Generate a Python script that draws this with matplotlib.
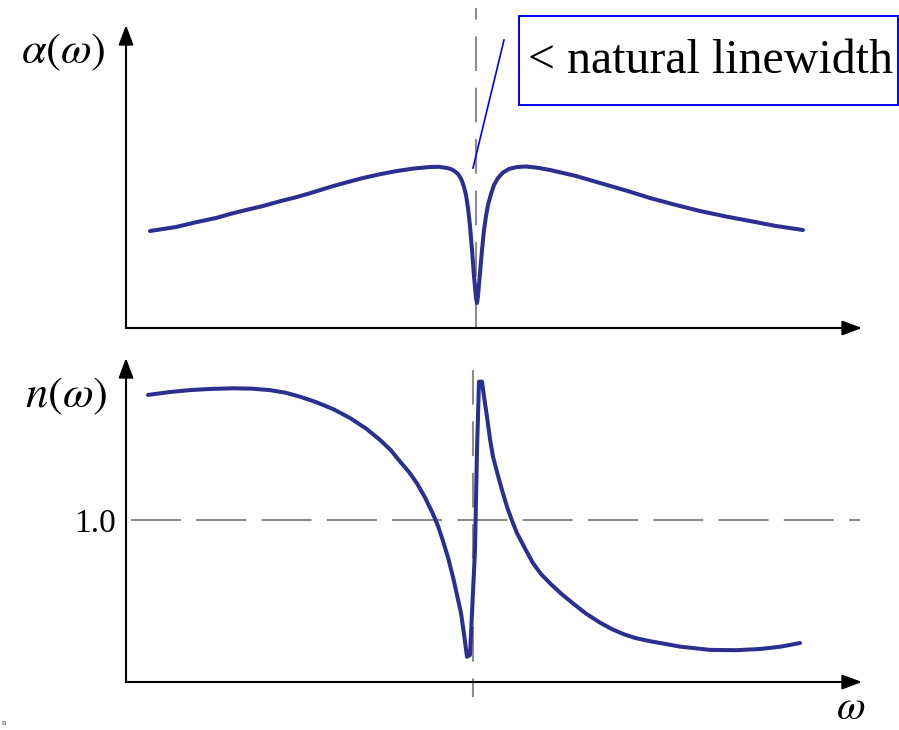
#!/usr/bin/env python3
''' Absorption alpha(w) and refractive index n(w) near a narrow dip (sketch) '''
import numpy as np
import matplotlib
matplotlib.use("Agg")
from matplotlib import pyplot as plt
from matplotlib.patches import Rectangle

plt.rcParams['font.family'] = ['Liberation Serif', 'DejaVu Serif']
plt.rcParams['mathtext.fontset'] = 'stix'
plt.rcParams['lines.scale_dashes'] = False

# absorption curve (omega in arbitrary units)
w_alpha = [0.24, 0.5, 0.71, 0.9, 1.04, 1.2, 1.37, 1.55, 1.71, 1.88, 2.04, 2.2, 2.37, 2.55,
           2.71, 2.88, 3.04, 3.13, 3.21, 3.26, 3.29, 3.32, 3.34, 3.36, 3.38, 3.40, 3.42,
           3.44, 3.46, 3.48, 3.50, 3.51, 3.52, 3.54, 3.56, 3.58, 3.60, 3.62, 3.65, 3.68,
           3.72, 3.77, 3.83, 3.91, 4.0, 4.1, 4.24, 4.5, 4.74, 5.0, 5.24, 5.5, 5.74, 6.0,
           6.24, 6.5, 6.77]
alpha = [0.97, 1.01, 1.06, 1.10, 1.14, 1.18, 1.22, 1.27, 1.31, 1.36, 1.41, 1.455, 1.50, 1.54,
         1.57, 1.595, 1.61, 1.612, 1.60, 1.585, 1.565, 1.54, 1.51, 1.47, 1.41, 1.33, 1.20,
         1.02, 0.78, 0.52, 0.30, 0.25, 0.32, 0.55, 0.78, 0.98, 1.12, 1.23, 1.34, 1.43,
         1.50, 1.555, 1.59, 1.61, 1.615, 1.605, 1.58, 1.52, 1.45, 1.375, 1.30, 1.23, 1.17, 1.115,
         1.07, 1.02, 0.98]

# refractive index curve
w_n = [0.22, 0.45, 0.64, 0.85, 1.07, 1.25, 1.44, 1.6, 1.74, 1.9, 2.07, 2.24, 2.4, 2.54,
       2.65, 2.74, 2.83, 2.91, 2.99, 3.07, 3.12, 3.17, 3.22, 3.27, 3.31, 3.35, 3.38, 3.41,
       3.44, 3.49, 3.51, 3.53, 3.56, 3.585, 3.61, 3.64, 3.67, 3.71, 3.76, 3.81, 3.86, 3.91,
       3.99, 4.07, 4.15, 4.24, 4.35, 4.47, 4.6, 4.74, 4.86, 4.98, 5.1, 5.24, 5.54, 5.84,
       6.1, 6.34, 6.55, 6.74]
n = [1.417, 1.427, 1.433, 1.437, 1.439, 1.438, 1.433, 1.424, 1.411, 1.393, 1.37, 1.34, 1.305,
     1.267, 1.232, 1.195, 1.16, 1.122, 1.075, 1.02, 0.98, 0.93, 0.875, 0.81, 0.75, 0.69,
     0.62, 0.544, 0.55, 0.90, 1.233, 1.461, 1.461, 1.40, 1.344, 1.27, 1.211, 1.16, 1.10,
     1.044, 0.998, 0.956, 0.905, 0.856, 0.82, 0.789, 0.755, 0.722, 0.688, 0.658, 0.636,
     0.619, 0.606, 0.596, 0.578, 0.567, 0.566, 0.57, 0.578, 0.59]

w0_top = 3.50
w0_bot = 3.47
n_ref = 1.0

W, H = 899, 730
curve_col = '#2b2f8f'
dash_col = '#8c8c8c'

fig = plt.figure(figsize=(W / 100, H / 100), dpi=100)


def box(l, t, r, b):
    return [l / W, 1 - b / H, (r - l) / W, (b - t) / H]


def arrows(ax):
    st = dict(arrowstyle='-|>,head_length=0.8,head_width=0.3', color='black',
              lw=1.5, shrinkA=0, shrinkB=0, mutation_scale=15)
    ax.annotate('', xy=(1, 0), xytext=(0, 0), xycoords='axes fraction', arrowprops=st)
    ax.annotate('', xy=(0, 1), xytext=(0, 0), xycoords='axes fraction', arrowprops=st)
    for s in ax.spines.values():
        s.set_visible(False)
    ax.set_xticks([])


ax1 = fig.add_axes(box(126, 25, 862, 328))
ax1.set_xlim(0, 7.36)
ax1.set_ylim(0, 3.03)
arrows(ax1)
ax1.set_yticks([])
ax1.plot([w0_top, w0_top], [0, 3.20], color=dash_col, lw=1.5,
         dashes=(25, 12), clip_on=False, zorder=1)
ax1.plot(w_alpha, alpha, color=curve_col, lw=2.9, solid_joinstyle='round',
         solid_capstyle='round', zorder=3)
ax1.plot([3.47, 3.78], [1.60, 2.88], color='blue', lw=1.2, clip_on=False)

ax2 = fig.add_axes(box(126, 358, 862, 682))
ax2.set_xlim(0, 7.36)
ax2.set_ylim(0.46, 1.54)
arrows(ax2)
ax2.set_yticks([n_ref])
ax2.set_yticklabels(['1.0'], fontsize=24)
ax2.tick_params(axis='y', length=0, pad=7)
ax2.plot([0.05, 7.34], [n_ref, n_ref], color=dash_col, lw=1.5,
         dashes=(36, 11), clip_on=False, zorder=1)
ax2.plot([w0_bot, w0_bot], [1.50, 0.41], color=dash_col, lw=1.5,
         dashes=(25, 12), clip_on=False, zorder=1)
ax2.plot(w_n, n, color=curve_col, lw=2.9, solid_joinstyle='round',
         solid_capstyle='round', zorder=3)

# labels
fig.text(63 / W, 1 - 52 / H, r'$\alpha(\omega)$', fontsize=32, ha='center', va='center')
fig.text(66 / W, 1 - 396 / H, r'$n(\omega)$', fontsize=32, ha='center', va='center')
fig.text(851 / W, 1 - 709 / H, r'$\omega$', fontsize=30, ha='center', va='center')

fig.add_artist(Rectangle((519 / W, 1 - 105 / H), (898 - 519) / W, 89 / H,
                         transform=fig.transFigure, fill=False, ec='blue', lw=1.4))
fig.text(528 / W, 1 - 73 / H, '< natural linewidth', fontsize=34.5,
         ha='left', va='baseline')
fig.text(2 / W, 1 - 723 / H, 'n', fontsize=6, color='#444444', ha='left', va='center')

fig.savefig('out.png', dpi=100)
